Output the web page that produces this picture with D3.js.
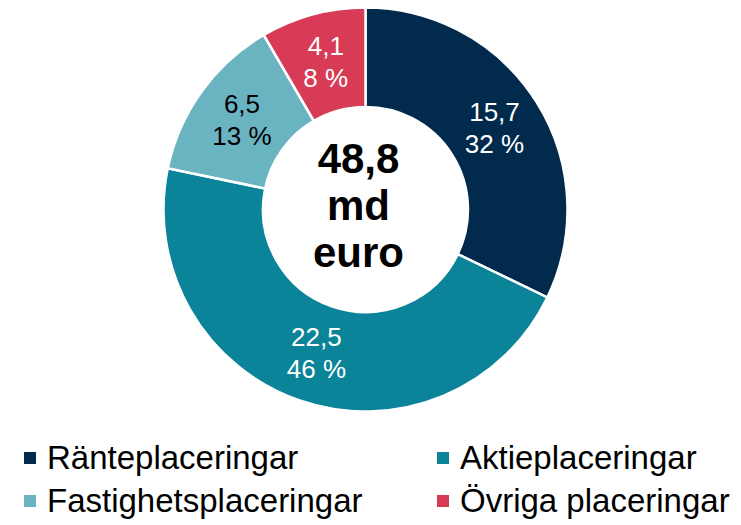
<!DOCTYPE html>
<html>
<head>
<meta charset="utf-8">
<script src="https://d3js.org/d3.v7.min.js"></script>
<style>
body { margin: 0; background: #fff; }
text { font-family: "Liberation Sans", Arial, sans-serif; }
</style>
</head>
<body>
<div id="chart"></div>
<script>
// data
var categories = ["Ränteplaceringar", "Aktieplaceringar", "Fastighetsplaceringar", "Övriga placeringar"];
var values = [15.7, 22.5, 6.5, 4.1];
var shares = ["32 %", "46 %", "13 %", "8 %"];
var colors = ["#012a4c", "#0b8399", "#6ab4c2", "#d73b55"];
var labelColors = ["#fff", "#fff", "#000", "#fff"];
var totalLines = ["48,8", "md", "euro"];

var width = 741, height = 525;
var cx = 365.5, cy = 209.5, outerR = 202, innerR = 102.5;

var svg = d3.select("#chart").append("svg")
  .attr("width", width).attr("height", height);

var data = categories.map(function(c, i) {
  return { name: c, value: values[i], share: shares[i], color: colors[i], lc: labelColors[i] };
});

var pie = d3.pie().sort(null).value(function(d) { return d.value; });
var arc = d3.arc().innerRadius(innerR).outerRadius(outerR);

var g = svg.append("g").attr("transform", "translate(" + cx + "," + cy + ")");

var slices = g.selectAll("g.slice")
  .data(pie(data))
  .enter().append("g").attr("class", "slice");

slices.append("path")
  .attr("d", arc)
  .attr("fill", function(d) { return d.data.color; })
  .attr("stroke", "#fff")
  .attr("stroke-width", 2.5);

var lbl = slices.append("text")
  .attr("transform", function(d) { return "translate(" + arc.centroid(d) + ")"; })
  .attr("text-anchor", "middle")
  .style("font-size", "26px")
  .attr("fill", function(d) { return d.data.lc; });

lbl.append("tspan").attr("x", 0).attr("y", -7.5)
  .text(function(d) { return String(d.data.value).replace(".", ","); });
lbl.append("tspan").attr("x", 0).attr("y", 24.5)
  .text(function(d) { return d.data.share; });

// total in the hole (sits a little left of centre in the original)
g.append("text")
  .attr("text-anchor", "middle")
  .style("font-size", "42px")
  .style("font-weight", "bold")
  .selectAll("tspan")
  .data(totalLines)
  .enter().append("tspan")
  .attr("x", -7)
  .attr("y", function(d, i) { return -36.5 + i * 47; })
  .text(function(d) { return d; });

// legend, two columns
var legX = [24, 437], legY = [469, 512];
var leg = svg.selectAll("g.leg")
  .data(data)
  .enter().append("g").attr("class", "leg")
  .attr("transform", function(d, i) {
    return "translate(" + legX[i % 2] + "," + legY[Math.floor(i / 2)] + ")";
  });

leg.append("rect")
  .attr("x", 0).attr("y", -17)
  .attr("width", 12).attr("height", 12)
  .attr("fill", function(d) { return d.color; });

leg.append("text")
  .attr("x", 23).attr("y", 0)
  .style("font-size", "33px")
  .attr("fill", "#000")
  .text(function(d) { return d.name; });
</script>
</body>
</html>
